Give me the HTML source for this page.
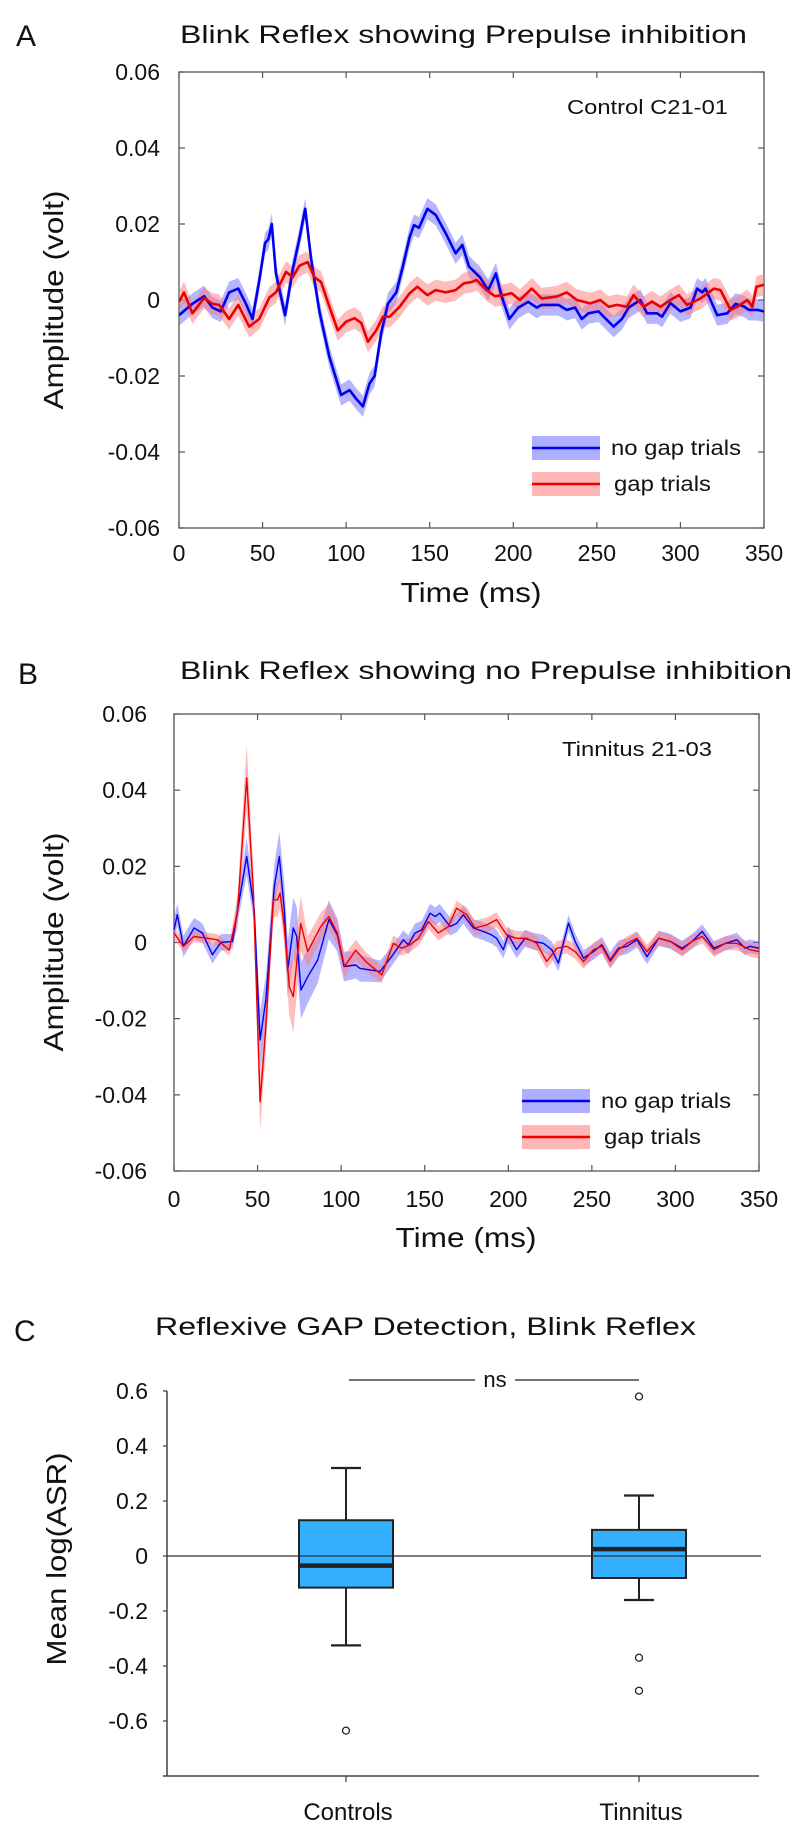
<!DOCTYPE html>
<html><head><meta charset="utf-8"><style>
html,body{margin:0;padding:0;background:#fff}
svg{display:block;font-family:"Liberation Sans",Arial,sans-serif}
</style></head><body>
<svg id="fig" width="800" height="1838" viewBox="0 0 800 1838" xmlns="http://www.w3.org/2000/svg">
<g id="panelA">
<text x="16" y="46" font-size="30" fill="#111">A</text>
<text x="180" y="43" font-size="25" fill="#111" textLength="567" lengthAdjust="spacingAndGlyphs">Blink Reflex showing Prepulse inhibition</text>
<text transform="translate(63,300) rotate(-90)" font-size="28" text-anchor="middle" fill="#111" textLength="219" lengthAdjust="spacingAndGlyphs">Amplitude (volt)</text>
<text x="471" y="602" font-size="28" text-anchor="middle" fill="#111" textLength="141" lengthAdjust="spacingAndGlyphs">Time (ms)</text>
<text x="567" y="114" font-size="20" fill="#111" textLength="161" lengthAdjust="spacingAndGlyphs">Control C21-01</text>
</g>
<g id="panelB">
<text x="18" y="684" font-size="30" fill="#111">B</text>
<text x="180" y="679" font-size="25" fill="#111" textLength="612" lengthAdjust="spacingAndGlyphs">Blink Reflex showing no Prepulse inhibition</text>
<text transform="translate(63,942) rotate(-90)" font-size="28" text-anchor="middle" fill="#111" textLength="219" lengthAdjust="spacingAndGlyphs">Amplitude (volt)</text>
<text x="466" y="1247" font-size="28" text-anchor="middle" fill="#111" textLength="141" lengthAdjust="spacingAndGlyphs">Time (ms)</text>
<text x="562" y="756" font-size="20" fill="#111" textLength="150" lengthAdjust="spacingAndGlyphs">Tinnitus 21-03</text>
</g>
<g id="panelC">
<text x="14" y="1341" font-size="30" fill="#111">C</text>
<text x="155" y="1335" font-size="25" fill="#111" textLength="541" lengthAdjust="spacingAndGlyphs">Reflexive GAP Detection, Blink Reflex</text>
<text transform="translate(66,1559) rotate(-90)" font-size="28" text-anchor="middle" fill="#111" textLength="213" lengthAdjust="spacingAndGlyphs">Mean log(ASR)</text>
<line x1="349" y1="1380" x2="475" y2="1380" stroke="#222" stroke-width="1.3"/>
<line x1="515" y1="1380" x2="639" y2="1380" stroke="#222" stroke-width="1.3"/>
<text x="495" y="1387" font-size="22" text-anchor="middle" fill="#111">ns</text>
</g>
</svg>
<script>
// ---------- Panel A data ----------
const timeA_blue = [0,8,15,20,25,30,35.5,40,44,48,51.5,53.5,55.5,58,63.5,68,72,75.5,79,84,90,97,102,106,110,114,117,121,125,130,134,138,140.6,143.6,148.6,153.6,159.5,165.5,169.5,173.5,180,185,189.6,193,197.6,203,209,214,217,222,227,232,237,241,245,251,255,260,265,269,276,280,286,289,294,300,306,310,313,315,322,328,333,338,341,346,350];
const ampA_blue = [-0.004,-0.001,0.001,-0.002,-0.003,0.002,0.003,-0.001,-0.005,0.005,0.015,0.016,0.020,0.007,-0.004,0.008,0.016,0.024,0.011,-0.003,-0.015,-0.025,-0.0237,-0.026,-0.028,-0.022,-0.020,-0.0087,-0.001,0.002,0.009,0.0166,0.0197,0.019,0.024,0.0224,0.0176,0.0123,0.0145,0.0088,0.006,0.0026,0.007,0.001,-0.005,-0.002,-0.0005,-0.002,-0.0013,-0.0013,-0.0013,-0.0026,-0.002,-0.005,-0.0035,-0.003,-0.0048,-0.007,-0.005,-0.002,0,-0.0035,-0.0035,-0.0044,-0.0008,-0.003,-0.002,0.003,0.002,0.003,-0.004,-0.0035,-0.001,-0.0017,-0.0026,-0.0026,-0.003];
const timeA_red = [0,3,8,15,20,24,30,35.5,42,48,54,58,64,68,72,77,81,85,90,95,100,105,109,113,118,122,126,132,138,142.6,148.6,153.6,159.5,165.5,170.5,175.5,178,184,189,194,199,204,211,217,226,232,238,246,252,257,262,268,272,278,283,288,294,299,304,312,320,324,330,334,340,343,345.5,350];
const ampA_red = [-0.0005,0.002,-0.0035,0.0005,-0.001,-0.0013,-0.005,-0.0013,-0.007,-0.005,0.0006,0.002,0.0074,0.006,0.009,0.010,0.006,0.0047,-0.0018,-0.008,-0.0057,-0.0048,-0.006,-0.011,-0.008,-0.0044,-0.0044,-0.0018,0.0018,0.0035,0.0013,0.0026,0.002,0.0026,0.0044,0.0048,0.0053,0.0026,0.001,0.0013,0.0018,0,0.003,0.0004,0.0009,0.002,0,-0.0009,0,-0.0018,-0.0013,-0.0018,0.0013,-0.0018,-0.0004,-0.0018,0,0.0013,-0.0013,0.0004,0.003,0.0026,-0.0026,-0.0018,0,-0.0018,0.0035,0.004];
const semA_blue = 0.0028;
const semA_red = 0.0028;
// ---------- Panel B data ----------
const timeB_blue = [0,2,5.6,12,17,23,28,35,39,43.5,48,51.5,55,60,63,66,68,71.4,73.4,76,80,86,92.7,97.7,101.7,108.7,111.3,117.3,123.3,130.2,137.2,140.2,144.2,148.2,153.2,156.2,159,165.2,169.1,173.1,179.1,185.1,190,193,197,200,205,210,215,221,226,230,236,240,245,251,256,261,266,271,277,283,290,297,304,310,316,323,330,336.7,341.7,344.6,350];
const ampB_blue = [0.0033,0.0073,-0.001,0.0038,0.0025,-0.0032,0,0.0003,0.011,0.0226,0.0086,-0.0256,-0.015,0.0147,0.0226,0.0086,-0.0072,0.0038,0.0016,-0.0125,-0.009,-0.0046,0.006,0.002,-0.0063,-0.0059,-0.0068,-0.0072,-0.0076,-0.0037,0.0007,-0.0006,0.0025,0.0033,0.0077,0.0068,0.0077,0.0042,0.005,0.0073,0.0038,0.0029,0.002,0.0011,-0.0019,0.002,-0.0019,0.0011,0.0003,-0.0002,-0.0019,-0.0054,0.0051,0.0003,-0.0041,-0.0024,-0.0006,-0.0046,-0.0015,-0.001,0.0007,-0.0037,0.0011,0.0003,-0.0015,0.0003,0.0029,-0.0015,-0.0002,0.0007,-0.0015,-0.001,-0.0015];
const timeB_red = [0,5.6,12,20,26,33,38,43.5,47.5,51.5,55,59.4,62,63.4,66,69,71.4,75.8,80,87.8,92.7,97.7,102,108.7,114.7,119.7,124.3,131.2,136.2,141.2,146.2,152.2,158.2,164.2,169.1,175.1,180.1,187,193,199,205,211,217,223,229,235,240,245,251,256,261,266,271,277,283,290,297,304,310,316,323,330,336.7,344.6,350];
const ampB_red = [0.0025,-0.001,0.0016,0.0011,0.0007,-0.002,0.008,0.0432,0.013,-0.0418,-0.022,0.0112,0.0112,0.013,0.0042,-0.0116,-0.0142,0.005,-0.0024,0.0042,0.0068,0.0025,-0.0063,-0.002,-0.005,-0.0068,-0.0085,-0.0002,-0.0015,-0.0006,0.0011,0.0055,0.0025,0.0042,0.009,0.0073,0.0038,0.0046,0.006,0.002,0.0011,0.0011,-0.0002,-0.005,-0.0015,-0.001,-0.0024,-0.005,-0.0019,-0.001,-0.005,-0.0019,-0.0002,0.0011,-0.0024,0.0011,0.0003,-0.0019,0.0003,0.0016,-0.0019,-0.0002,-0.0002,-0.0019,-0.0024];
const semB_time = [0,35,43,48,52,57,65,72,80,100,130,350];
const semB_blue = [0.003,0.002,0.005,0.004,0.008,0.005,0.007,0.008,0.007,0.004,0.0025,0.0018];
const semB_red = [0.0015,0.0015,0.009,0.006,0.008,0.005,0.004,0.01,0.004,0.003,0.002,0.0018];
// ---------- Panel C data ----------
const groupsC = ["Controls","Tinnitus"];
const whiskerHighC = [0.32,0.22];
const q3C = [0.13,0.095];
const medianC = [-0.035,0.025];
const q1C = [-0.115,-0.08];
const whiskerLowC = [-0.325,-0.16];
const outliersC = [[-0.635],[0.58,-0.37,-0.49]];
const ticksC = [0.6,0.4,0.2,0,-0.2,-0.4,-0.6];
const ticksY_AB = [0.06,0.04,0.02,0,-0.02,-0.04,-0.06];
const tickLabelsY_AB = ["0.06","0.04","0.02","0","-0.02","-0.04","-0.06"];
const ticksX_AB = [0,50,100,150,200,250,300,350];

const NS="http://www.w3.org/2000/svg";
function mk(tag,attrs,parent){const e=document.createElementNS(NS,tag);for(const k in attrs)e.setAttribute(k,attrs[k]);parent.appendChild(e);return e;}
function interp(ts,ws,t){if(t<=ts[0])return ws[0];for(let i=1;i<ts.length;i++){if(t<=ts[i]){const f=(t-ts[i-1])/(ts[i]-ts[i-1]);return ws[i-1]+f*(ws[i]-ws[i-1]);}}return ws[ws.length-1];}

function drawTrace(g,cfg,X,Y){
  const x0=cfg.L,x1=cfg.R,y0=cfg.T,y1=cfg.B;
  const frame=mk('rect',{x:x0,y:y0,width:x1-x0,height:y1-y0,fill:'none',stroke:'#555','stroke-width':1.3},g);
  
  
  ticksY_AB.forEach((v,i)=>{
    const y=Y(v);
    const t1=mk('line',{x1:x0,y1:y,x2:x0+6,y2:y,stroke:'#555','stroke-width':1.2},g);
    
    
    const t2=mk('line',{x1:x1,y1:y,x2:x1-6,y2:y,stroke:'#555','stroke-width':1.2},g);
    
    
    const tx=mk('text',{x:cfg.labRight,y:y+8,'font-size':23,'text-anchor':'end',fill:'#111'},g);
    tx.textContent=tickLabelsY_AB[i];
    
    
  });
  ticksX_AB.forEach(v=>{
    const x=X(v);
    const t1=mk('line',{x1:x,y1:y1,x2:x,y2:y1-6,stroke:'#555','stroke-width':1.2},g);
    
    
    const t2=mk('line',{x1:x,y1:y0,x2:x,y2:y0+6,stroke:'#555','stroke-width':1.2},g);
    
    
    const tx=mk('text',{x:x,y:cfg.xLabY,'font-size':23,'text-anchor':'middle',fill:'#111'},g);
    tx.textContent=String(v);
    
    
  });
  const clipId=cfg.id+'clip';
  const cp=mk('clipPath',{id:clipId},g);mk('rect',{x:x0,y:y0,width:x1-x0,height:y1-y0},cp);
  const series=[
    {name:'no-gap',ts:cfg.tb,vs:cfg.vb,sem:cfg.sb,band:'#6e6eff',line:'#0000ee'},
    {name:'gap',ts:cfg.tr,vs:cfg.vr,sem:cfg.sr,band:'#ff7a7a',line:'#ee0000'}
  ];
  series.forEach(s=>{
    const up=[],dn=[];
    s.ts.forEach((t,i)=>{const w=s.sem(t);up.push(X(t).toFixed(1)+','+Y(s.vs[i]+w).toFixed(1));dn.unshift(X(t).toFixed(1)+','+Y(s.vs[i]-w).toFixed(1));});
    const b=mk('polygon',{points:up.concat(dn).join(' '),fill:s.band,'fill-opacity':0.5,'clip-path':'url(#'+clipId+')'},g);
    
    
  });
  series.forEach(s=>{
    const pts=s.ts.map((t,i)=>X(t).toFixed(1)+','+Y(s.vs[i]).toFixed(1)).join(' ');
    const l=mk('polyline',{points:pts,fill:'none',stroke:s.line,'stroke-width':cfg.lw,'stroke-linejoin':'round','clip-path':'url(#'+clipId+')'},g);
    
    
  });
  const lg=[['no gap trials','#6e6eff','#0000ee',cfg.legY1,130],['gap trials','#ff7a7a','#ee0000',cfg.legY2,97]];
  lg.forEach((e,i)=>{
    const p=mk('rect',{x:cfg.legX,y:e[3]-12,width:68,height:24,fill:e[1],'fill-opacity':0.55},g);
    
    
    const ln=mk('line',{x1:cfg.legX,y1:e[3],x2:cfg.legX+68,y2:e[3],stroke:e[2],'stroke-width':2.5},g);
    
    
    const tx=mk('text',{x:cfg.legX+79+(i?3:0),y:e[3]+7,'font-size':21,fill:'#111',textLength:e[4],lengthAdjust:'spacingAndGlyphs'},g);
    tx.textContent=e[0];
    
    
  });
}

// Panel A
(function(){
  const g=document.getElementById('panelA');
  const L=179,R=764,T=72,B=528;
  const X=t=>L+(t/350)*(R-L);
  const Y=v=>T+(0.06-v)/0.12*(B-T);
  drawTrace(g,{id:'panel-a',L,R,T,B,labRight:160,xLabY:561,lw:2.6,
    tb:timeA_blue,vb:ampA_blue,sb:()=>semA_blue,tr:timeA_red,vr:ampA_red,sr:()=>semA_red,
    legX:532,legY1:448,legY2:484},X,Y);
})();
// Panel B
(function(){
  const g=document.getElementById('panelB');
  const L=174,R=759,T=714,B=1171;
  const X=t=>L+(t/350)*(R-L);
  const Y=v=>T+(0.06-v)/0.12*(B-T);
  drawTrace(g,{id:'panel-b',L,R,T,B,labRight:147,xLabY:1207,lw:1.4,
    tb:timeB_blue,vb:ampB_blue,sb:t=>interp(semB_time,semB_blue,t),tr:timeB_red,vr:ampB_red,sr:t=>interp(semB_time,semB_red,t),
    legX:522,legY1:1101,legY2:1137},X,Y);
})();
// Panel C
(function(){
  const g=document.getElementById('panelC');
  const L=167,R=759,BOT=1776;
  const Y=v=>1556-v*275;
  const XC=[346,639];
  const ax=mk('line',{x1:L,y1:Y(0.6),x2:L,y2:BOT,stroke:'#444','stroke-width':1.5},g);
  
  
  const bx=mk('line',{x1:L-4,y1:BOT,x2:R,y2:BOT,stroke:'#444','stroke-width':1.5},g);
  
  
  const z=mk('line',{x1:L,y1:Y(0),x2:761,y2:Y(0),stroke:'#333','stroke-width':1.3},g);
  
  
  ticksC.forEach(v=>{
    const t=mk('line',{x1:L-4,y1:Y(v),x2:L,y2:Y(v),stroke:'#444','stroke-width':1.3},g);
    
    
    const tx=mk('text',{x:148,y:Y(v)+8,'font-size':23,'text-anchor':'end',fill:'#111'},g);
    tx.textContent=v===0?'0':v.toFixed(1);
    
    
  });
  groupsC.forEach((name,i)=>{
    const cx=XC[i],hw=47,cw=15;
    const t=mk('line',{x1:cx,y1:BOT,x2:cx,y2:BOT+6,stroke:'#444','stroke-width':1.3},g);
    
    
    const lab=mk('text',{x:cx+2,y:1820,'font-size':24,'text-anchor':'middle',fill:'#111'},g);
    lab.textContent=name;
    
    
    const w1=mk('line',{x1:cx,y1:Y(whiskerHighC[i]),x2:cx,y2:Y(q3C[i]),stroke:'#222','stroke-width':2},g);
    
    
    const w2=mk('line',{x1:cx,y1:Y(q1C[i]),x2:cx,y2:Y(whiskerLowC[i]),stroke:'#222','stroke-width':2},g);
    
    
    const c1=mk('line',{x1:cx-cw,y1:Y(whiskerHighC[i]),x2:cx+cw,y2:Y(whiskerHighC[i]),stroke:'#222','stroke-width':2.2},g);
    
    
    const c2=mk('line',{x1:cx-cw,y1:Y(whiskerLowC[i]),x2:cx+cw,y2:Y(whiskerLowC[i]),stroke:'#222','stroke-width':2.2},g);
    
    
    const bxr=mk('rect',{x:cx-hw,y:Y(q3C[i]),width:2*hw,height:Y(q1C[i])-Y(q3C[i]),fill:'#33b0ff',stroke:'#222','stroke-width':2},g);
    
    
    const zl=mk('line',{x1:cx-hw,y1:Y(0),x2:cx+hw,y2:Y(0),stroke:'#333','stroke-width':1.3},g);
    
    
    const md=mk('line',{x1:cx-hw,y1:Y(medianC[i]),x2:cx+hw,y2:Y(medianC[i]),stroke:'#222','stroke-width':4.5},g);
    
    
    outliersC[i].forEach(v=>{
      const o=mk('circle',{cx:cx,cy:Y(v),r:3.5,fill:'#fff',stroke:'#222','stroke-width':1.3},g);
      
      
    });
  });
})();
</script>
</body></html>
